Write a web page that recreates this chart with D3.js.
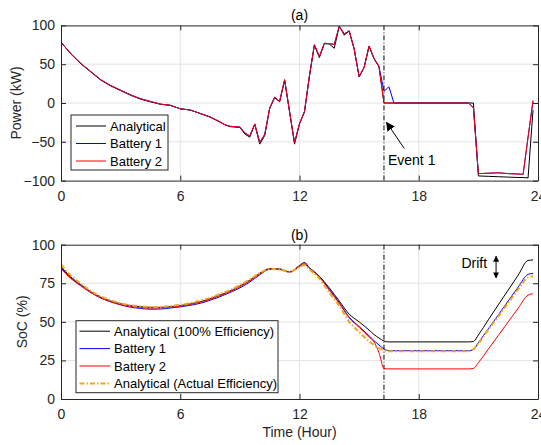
<!DOCTYPE html>
<html>
<head>
<meta charset="utf-8">
<script src="https://cdn.jsdelivr.net/npm/d3@7/dist/d3.min.js"></script>
<style>
  html, body { margin: 0; padding: 0; background: #fff; }
  svg { display: block; font-family: "Liberation Sans", Arial, sans-serif; }
</style>
</head>
<body>
<svg id="chart" width="541" height="445"></svg>
<script>
// ---------- DATA ----------
const xTicks = [0, 6, 12, 18, 24];
const powerTicks = [-100, -50, 0, 50, 100];
const socTicks = [0, 25, 50, 75, 100];
const eventHour = 16.25;

const powerHours = [0,0.5,1,1.5,2,2.5,3,3.5,4,4.5,5,5.5,6,6.5,7,7.5,8,
  8.25,8.5,8.75,9,9.25,9.5,9.75,10,10.25,10.5,10.75,11,11.25,11.5,11.75,12,
  12.25,12.5,12.75,13,13.25,13.5,13.75,14,14.25,14.5,14.75,15,15.25,15.5,15.75,16,
  16.25,16.5,16.75,20.5,20.75,21,21.5,22,22.5,23,23.25,23.5,23.75];

const powerAnalytical = [78.5,63,50.5,40,29.5,22,16,10,5,1.5,-1.5,-3,-7.5,-9,-13.5,-18,-24.5,
  -28,-30.5,-31,-31.5,-40,-44,-27.5,-53,-42,-7,7,1.5,29.5,-11.5,-53,-27,
  -11.5,35,74.5,58.5,76.5,76,70.5,99,87.5,92.5,69.5,33.5,45.5,73,57,46.5,
  0,0,0,0,0,-94,-94.5,-95,-95.5,-96,-96,-96.5,-9];

const powerBattery1 = [78,63.5,51,40.5,30,22.5,16.5,10.5,5.5,2,-1.5,-3,-7.5,-9,-13.5,-18,-24.5,
  -28,-30,-30.5,-31,-38.5,-42.5,-27,-51,-40.5,-6.5,7.5,2,30,-11,-51,-26.5,
  -11,35,75,60,77,76.5,75.5,99,89,93,70,34,46,73.5,57.5,47,
  15,21,0,0,-6,-91,-90.5,-90,-91,-91.5,-92,-44,3];

const powerBattery2 = [78,63.5,51,40.5,30,22.5,16.5,10.5,5.5,2,-1.5,-3,-7.5,-9,-13.5,-18,-24.5,
  -28,-30,-30.5,-31,-38.5,-42.5,-27,-51,-40.5,-6.5,7.5,2,30,-11,-51,-26.5,
  -11,35,75,60,77,76.5,75.5,99,89,93,70,34,46,73.5,57.5,47,
  0,0,0,0,-6,-91,-90.5,-90,-91,-91.5,-92,-44,3];

const socHours = [0,0.5,1,1.5,2,2.5,3,3.5,4,4.5,5,5.5,6,6.5,7,7.5,8,8.5,9,9.5,10,10.5,11,11.5,12,
  12.25,12.5,13,13.5,14,14.5,15,15.5,15.75,16,16.25,16.5,20.5,20.75,21,21.5,22,22.5,23,23.5,23.75];

const socAnalytical100 = [85.7,79,74,69.5,66,63.5,61.7,60.5,59.8,59.4,59.4,59.8,60.5,61.6,63,65,67.4,70,73.2,77,81.5,84.5,84.3,82.5,86.5,
  88.5,85,79.5,72,63.5,55,50,44.7,41.8,39.5,37.6,37,37,37.3,41.5,51.3,61,70.6,80.2,89.8,90.1];

const socBattery1 = [85,78.5,73.5,69,65.5,63,61,59.5,58.7,58.2,58.3,59,59.7,60.7,62,64,66.3,69,72,75.8,80.5,84,84,82.2,86,
  87.5,85,79.5,71,62.5,53,47,41,37.8,35,32.5,31.3,31.3,32,36.5,45.5,54.5,63.5,72.5,80.8,81.4];

const socBattery2 = [84.5,78,73.3,69,65.5,63,61.2,60,59.3,58.9,59,59.5,60.2,61.3,62.7,64.6,67,69.6,72.8,76.5,81,84.2,84,82.2,86,
  87.5,84.7,79,70.5,62,52.5,46.5,40,37,30,19.8,19.5,19.5,19.8,23.5,32.3,41.1,50,58.8,67.3,68.2];

const socAnalyticalActual = [87,80,74.7,70,66.5,64,62,60.8,60,59.7,59.7,60.2,61,62.2,63.7,65.6,68,70.6,73.8,77.5,81.5,84.2,84,82.3,85.5,
  86.8,84,78,69,60.5,50,43.5,37.5,35,33,31.6,31,31,32.3,36,44.8,53.5,62.2,71,78.8,79.5];

const powerSeries = [
  { name: "Analytical", values: powerAnalytical, color: "#000000" },
  { name: "Battery 1", values: powerBattery1, color: "#0000ff" },
  { name: "Battery 2", values: powerBattery2, color: "#ff0000" }
];
const socSeries = [
  { name: "Analytical (100% Efficiency)", values: socAnalytical100, color: "#000000", width: 1, dash: null },
  { name: "Battery 1", values: socBattery1, color: "#0000ff", width: 1, dash: null },
  { name: "Battery 2", values: socBattery2, color: "#ff0000", width: 1, dash: null },
  { name: "Analytical (Actual Efficiency)", values: socAnalyticalActual, color: "#EDA61E", width: 2, dash: "5,2,1.5,2" }
];

// ---------- LAYOUT ----------
const svg = d3.select("#chart");
const left = 61, right = 538;
const axisColor = "#262626";
const gridColor = "#e3e3e3";

const x = d3.scaleLinear().domain([0, 24]).range([left, right]);

const defs = svg.append("defs");
defs.append("marker").attr("id", "ahead").attr("viewBox", "0 0 10 10")
  .attr("refX", 9).attr("refY", 5).attr("markerWidth", 9).attr("markerHeight", 9)
  .attr("markerUnits", "userSpaceOnUse").attr("orient", "auto")
  .append("path").attr("d", "M0,0 L10,5 L0,10 z").attr("fill", "#000");
defs.append("marker").attr("id", "shead").attr("viewBox", "0 0 10 10")
  .attr("refX", 9).attr("refY", 5).attr("markerWidth", 6).attr("markerHeight", 6)
  .attr("markerUnits", "userSpaceOnUse").attr("orient", "auto-start-reverse")
  .append("path").attr("d", "M0,0 L10,5 L0,10 z").attr("fill", "#000");

function drawPanel(cfg) {
  const y = d3.scaleLinear().domain(cfg.domain).range([cfg.bottom, cfg.top]);
  const g = svg.append("g");

  // grid
  g.append("g").selectAll("line").data(xTicks.slice(1, -1)).join("line")
    .attr("x1", d => x(d)).attr("x2", d => x(d)).attr("y1", cfg.top).attr("y2", cfg.bottom)
    .attr("stroke", gridColor).attr("stroke-width", 1);
  g.append("g").selectAll("line").data(cfg.ticks.slice(1, -1)).join("line")
    .attr("x1", left).attr("x2", right).attr("y1", d => y(d)).attr("y2", d => y(d))
    .attr("stroke", gridColor).attr("stroke-width", 1);

  // event line
  g.append("line").attr("x1", x(eventHour)).attr("x2", x(eventHour))
    .attr("y1", cfg.top).attr("y2", cfg.bottom)
    .attr("stroke", "#000").attr("stroke-width", 1).attr("stroke-dasharray", "5,2,1,2");

  // series
  const clipId = "clip" + cfg.id;
  defs.append("clipPath").attr("id", clipId).append("rect")
    .attr("x", left).attr("y", cfg.top - 1).attr("width", right - left).attr("height", cfg.bottom - cfg.top + 2);
  const lineGen = d3.line().x((d, i) => x(cfg.hours[i])).y(d => y(d)).curve(cfg.curve);
  const lg = g.append("g").attr("clip-path", `url(#${clipId})`);
  cfg.series.forEach(s => {
    lg.append("path").datum(s.values).attr("d", lineGen)
      .attr("fill", "none").attr("stroke", s.color)
      .attr("stroke-width", s.width || 1)
      .attr("stroke-dasharray", s.dash || null)
      .attr("stroke-linejoin", "round");
  });

  // axes
  const fontSize = "14px";
  const xb = g.append("g").attr("transform", `translate(0,${cfg.bottom})`)
    .call(d3.axisBottom(x).tickValues(xTicks).tickSize(-5).tickPadding(10).tickSizeOuter(0));
  const xt = g.append("g").attr("transform", `translate(0,${cfg.top})`)
    .call(d3.axisTop(x).tickValues(xTicks).tickSize(-5).tickFormat("").tickSizeOuter(0));
  const yl = g.append("g").attr("transform", `translate(${left},0)`)
    .call(d3.axisLeft(y).tickValues(cfg.ticks).tickSize(-5).tickPadding(6).tickSizeOuter(0));
  const yr = g.append("g").attr("transform", `translate(${right},0)`)
    .call(d3.axisRight(y).tickValues(cfg.ticks).tickSize(-5).tickFormat("").tickSizeOuter(0));
  [xb, xt, yl, yr].forEach(a => {
    a.select(".domain").attr("stroke", axisColor).attr("stroke-width", 1);
    a.selectAll(".tick line").attr("stroke", axisColor);
    a.selectAll("text").attr("fill", axisColor).style("font-size", fontSize)
      .style("font-family", '"Liberation Sans", Arial, sans-serif');
  });

  // title
  g.append("text").attr("x", (left + right) / 2).attr("y", cfg.top - 5)
    .attr("text-anchor", "middle").attr("fill", "#000").style("font-size", "14px").text(cfg.title);
  // y label
  g.append("text").attr("transform", `translate(${cfg.ylabelX},${(cfg.top + cfg.bottom) / 2}) rotate(-90)`)
    .attr("text-anchor", "middle").attr("fill", axisColor).style("font-size", "14px").text(cfg.ylabel);

  // legend
  const L = cfg.legend;
  const lgd = g.append("g");
  lgd.append("rect").attr("x", L.x).attr("y", L.y).attr("width", L.w).attr("height", L.h)
    .attr("fill", "#fff").attr("stroke", axisColor).attr("stroke-width", 1);
  cfg.series.forEach((s, i) => {
    const yy = L.y + L.first + i * L.step;
    lgd.append("line").attr("x1", L.x + L.lineX0).attr("x2", L.x + L.lineX1).attr("y1", yy).attr("y2", yy)
      .attr("stroke", s.color).attr("stroke-width", s.width || 1).attr("stroke-dasharray", s.dash || null);
    lgd.append("text").attr("x", L.x + L.textX).attr("y", yy).attr("dy", "0.35em")
      .attr("fill", "#000").style("font-size", "13px").text(s.name);
  });
  return { y, g };
}

const top1 = drawPanel({
  id: "a", domain: [-100, 100], top: 25.4, bottom: 180.6, ticks: powerTicks,
  hours: powerHours, series: powerSeries, curve: d3.curveLinear,
  title: "(a)", ylabel: "Power (kW)", ylabelX: 21,
  legend: { x: 71, y: 115, w: 97, h: 55, first: 11, step: 17.5, lineX0: 5, lineX1: 35, textX: 39 }
});

const bot = drawPanel({
  id: "b", domain: [0, 100], top: 244.7, bottom: 399, ticks: socTicks,
  hours: socHours, series: socSeries, curve: d3.curveMonotoneX,
  title: "(b)", ylabel: "SoC (%)", ylabelX: 26.5,
  legend: { x: 76, y: 320.7, w: 202, h: 72, first: 10.5, step: 17.4, lineX0: 3.5, lineX1: 34, textX: 38 }
});

// x label
svg.append("text").attr("x", (left + right) / 2).attr("y", 437).attr("text-anchor", "middle")
  .attr("fill", axisColor).style("font-size", "14px").text("Time (Hour)");

// Event annotation (panel a)
const ya = top1.y;
svg.append("line").attr("x1", x(17.27)).attr("y1", ya(-58.5)).attr("x2", x(16.38)).attr("y2", ya(-25))
  .attr("stroke", "#000").attr("stroke-width", 1).attr("marker-end", "url(#ahead)");
svg.append("text").attr("x", x(16.45)).attr("y", ya(-80)).attr("fill", "#000")
  .style("font-size", "14px").text("Event 1");

// Drift annotation (panel b)
const yb = bot.y;
svg.append("text").attr("x", x(20.15)).attr("y", yb(85)).attr("fill", "#000")
  .style("font-size", "14px").text("Drift");
svg.append("line").attr("x1", x(21.89)).attr("x2", x(21.89)).attr("y1", yb(92.5)).attr("y2", yb(78.5))
  .attr("stroke", "#000").attr("stroke-width", 1)
  .attr("marker-start", "url(#shead)").attr("marker-end", "url(#shead)");
</script>
</body>
</html>
